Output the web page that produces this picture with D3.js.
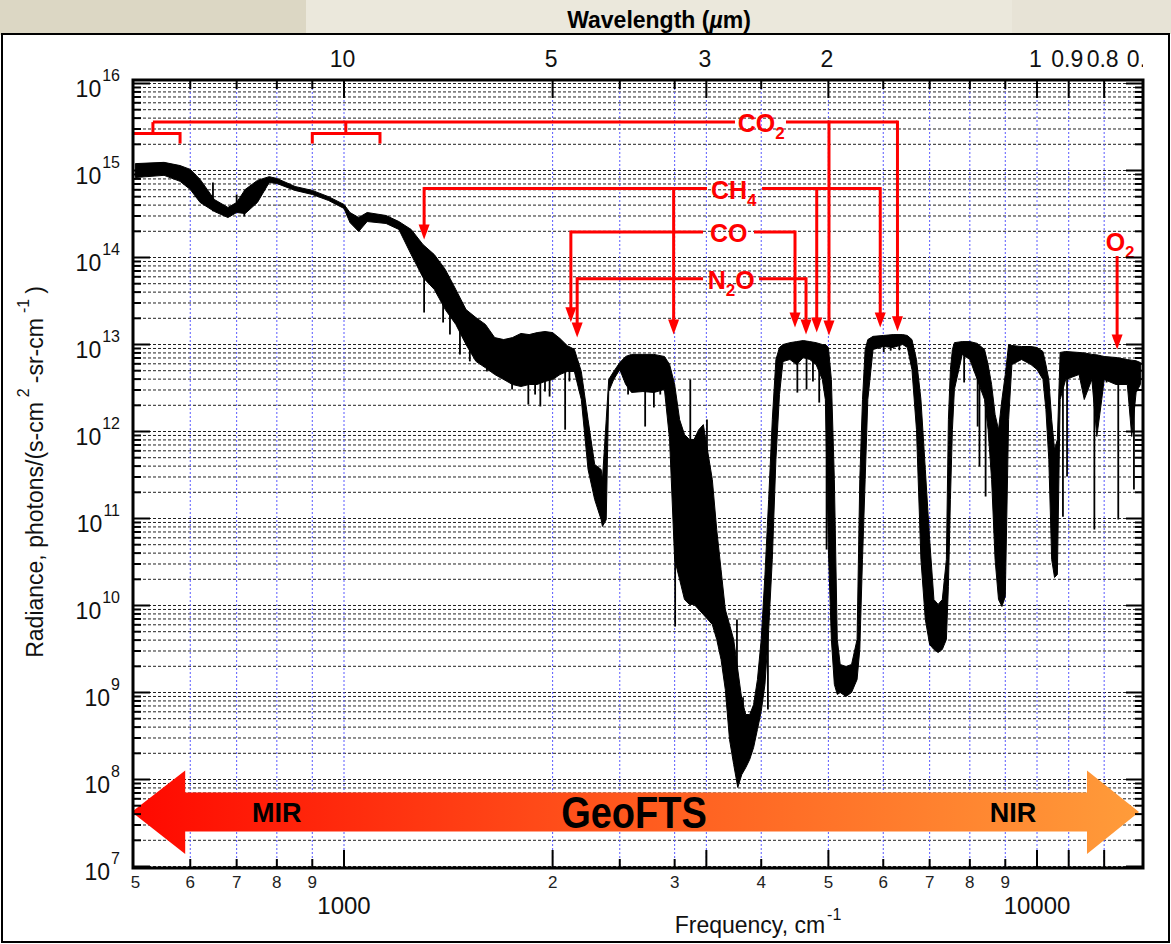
<!DOCTYPE html>
<html>
<head>
<meta charset="utf-8">
<script src="https://cdn.jsdelivr.net/npm/d3@7"></script>
<style>
  body { margin: 0; background: #fff; }
  svg { display: block; font-family: "Liberation Sans", Arial, sans-serif; }
</style>
</head>
<body>
<div id="chart"></div>
<script>
// ---- spectrum envelope (frequency cm-1, upper / lower radiance) ----
const freq = [500, 550, 580, 600, 620, 650, 680, 700, 720, 750, 780, 800, 850, 900, 950, 1000, 1020, 1050, 1080, 1150, 1200, 1250,
  1300, 1350, 1400, 1450, 1500, 1550, 1600, 1650, 1700, 1750, 1800, 1850, 1900, 1950, 2000, 2050, 2100, 2150, 2200, 2250, 2300,
  2350, 2360, 2390, 2410, 2450, 2500, 2550, 2600, 2700, 2800, 2900, 2950, 3000, 3050, 3100, 3150, 3200, 3250, 3300, 3400, 3450,
  3500, 3550, 3600, 3650, 3700, 3750, 3800, 3850, 3900, 3950, 4000, 4050, 4100, 4150, 4200, 4250, 4300, 4400, 4500, 4600, 4700,
  4800, 4900, 4950, 5000, 5050, 5100, 5150, 5200, 5300, 5400, 5500, 5550, 5600, 5650, 5700, 5800, 6000, 6200, 6400, 6500, 6600,
  6700, 6800, 6900, 7000, 7100, 7200, 7300, 7400, 7450, 7500, 7550, 7600, 7800, 8000, 8200, 8400, 8500, 8600, 8700, 8800, 8900,
  9000, 9100, 9200, 9500, 9800, 10000, 10200, 10300, 10400, 10500, 10600, 10700, 10800, 11000, 11500, 11700, 12000, 12200, 12400,
  12500, 13000, 13500, 13700, 13900, 14100];
const radHi = [1.20e15, 1.24e15, 1.14e15, 1.03e15, 7.9e14, 4.64e14, 3.76e14, 4.29e14, 6.05e14, 7.7e14, 8.5e14, 8.1e14, 6.55e14,
  5.9e14, 5.0e14, 4.07e14, 3.29e14, 2.88e14, 3.29e14, 3.04e14, 2.59e14, 2.1e14,
  1.41e14, 1.08e14, 7.3e13, 4.29e13, 2.52e13, 2.04e13, 1.70e13, 1.20e13, 1.14e13, 1.20e13, 1.34e13, 1.30e13, 1.37e13, 1.41e13,
  1.37e13, 1.17e13, 9.7e12, 8.8e12, 4.9e12, 1.37e12, 4.18e11, 3.66e11, 2.81e11, 1.37e12, 3.96e12, 4.9e12, 6.2e12, 7.3e12, 7.7e12,
  7.7e12, 7.7e12, 7.28e12, 5.9e12, 3.47e12, 1.37e12, 9.24e11, 8.1e11, 8.1e11, 1.05e12, 1.20e12, 2.8e11, 7.47e10,
  2.59e10, 9.0e9, 6.05e9, 4.07e9, 1.84e9, 8.31e8, 5.58e8, 5.58e8, 7.28e8, 1.41e9, 4.07e9, 2.27e10, 1.65e11, 1.37e12, 6.72e12,
  9.24e12, 1.0e13, 1.05e13, 1.08e13, 1.11e13, 1.08e13, 1.05e13, 1.0e13, 1.0e13, 9.24e12, 3.96e12, 2.8e11, 4.07e9, 2.1e9, 1.99e9,
  2.1e9, 4.07e9, 2.8e11, 2.33e12, 8.76e12, 1.14e13, 1.24e13, 1.27e13, 1.30e13, 1.30e13, 1.27e13, 1.14e13,
  6.72e12, 2.33e12, 3.66e11, 5.73e10, 1.17e10, 1.03e10, 1.17e10, 3.38e10, 1.37e12, 5.16e12, 8.76e12, 1.05e13, 1.08e13, 1.08e13,
  1.03e13, 8.76e12, 5.88e12, 3.47e12, 1.57e12, 1.05e12, 2.33e12, 4.52e12, 1.0e13, 9.74e12, 9.48e12, 9.48e12, 9.24e12, 8.31e12,
  5.88e12, 3.96e12, 1.37e12, 6.2e11, 8.1e11, 8.1e12, 8.31e12, 8.1e12, 8.0e12, 7.7e12, 7.6e12, 7.4e12,
  7.28e12, 7.09e12, 6.72e12, 6.6e12, 6.5e12, 6.2e12];
const radLo = [8.3e14, 8.8e14, 7.5e14, 6.05e14, 4.29e14, 3.38e14, 2.88e14, 3.29e14, 3.2e14, 4.29e14, 7.28e14, 7.09e14, 5.9e14,
  5.3e14, 4.52e14, 3.66e14, 2.52e14, 1.99e14, 2.59e14, 2.46e14, 2.1e14, 1.08e14,
  5.9e13, 4.29e13, 2.52e13, 1.70e13, 1.0e13, 6.4e12, 5.4e12, 4.52e12, 3.96e12, 3.47e12, 3.29e12, 3.47e12, 3.47e12, 3.76e12,
  3.96e12, 4.52e12, 4.9e12, 4.9e12, 2.33e12, 3.66e11, 1.65e11, 9.7e10, 8.1e10, 9.7e10, 2.88e12, 3.96e12, 5.16e12, 3.47e12, 2.81e12,
  2.88e12, 2.81e12, 3.04e12, 8.1e11, 3.38e10, 1.99e10, 1.17e10, 1.03e10, 1.03e10, 9.0e9, 7.88e9, 6.05e9, 4.07e9,
  2.4e9, 1.08e9, 2.88e8, 1.49e8, 8.1e7, 1.14e8, 1.37e8, 1.70e8, 2.33e8, 3.76e8, 6.05e8, 1.24e9, 5.3e9, 3.38e10, 4.77e11,
  2.66e12, 6.37e12, 6.72e12, 5.88e12, 7.09e12, 6.72e12, 5.88e12, 3.96e12, 2.33e12, 4.4e10, 4.07e9, 1.24e9, 9.48e8, 1.0e9, 9.0e8,
  1.0e9, 1.41e9, 3.12e9, 3.38e10, 2.8e11, 2.33e12, 8.76e12, 9.48e12, 9.24e12, 1.0e13, 9.24e12, 5.16e12,
  1.05e12, 3.38e10, 6.9e9, 3.56e9, 3.12e9, 2.88e9, 3.12e9, 4.07e9, 1.65e10, 1.65e11, 1.05e12, 3.04e12, 7.7e12, 6.72e12,
  3.96e12, 2.33e12, 1.05e12, 2.8e11, 3.38e10, 1.17e10, 9.74e9, 1.27e10, 1.37e12, 5.88e12, 6.72e12, 5.88e12, 5.16e12, 3.96e12,
  1.79e12, 4.77e11, 3.38e10, 2.1e10, 2.27e10, 2.33e12, 3.96e12, 4.52e12, 2.33e12, 3.96e12, 8.76e11, 2.33e12,
  3.96e12, 3.47e12, 3.47e12, 8.76e11, 2.8e12, 3.47e12];

// narrow absorption lines / spikes: frequency, from, to
const spikeFreq = [647, 700, 718, 1305, 1390, 1422, 1470, 1519, 1608, 1679, 1748, 1777, 1845, 1887, 1920, 1950, 1980, 2085, 2115,
  2570, 2640, 2720, 2800, 2860, 3005, 3160, 3340, 3570, 3690, 3765, 4090,
  4510, 4650, 4750, 4850, 4970, 6010, 6150, 6330, 7850, 8210, 8260, 8430, 10900, 11050, 11650, 12100, 12600, 13100, 13800];
const spikeHi = [7.28e14, 5.3e14, 4.5e14, 8e13, 4e13, 3e13, 2e13, 1.5e13, 1e13, 1e13, 1e13, 1e13, 5e12, 5e12, 5e12, 5e12, 5e12, 6e12, 8e12,
  7e12, 7e12, 4e12, 4e12, 7e12, 3e11, 3.96e12, 1.37e12, 6.9e9, 6.9e9, 8.8e8, 5e9,
  7e12, 7e12, 7e12, 7e12, 3e12, 1.2e13, 1.2e13, 1.2e13, 9e12, 5e12, 5e12, 3e12, 5e12, 5e12, 6e12, 5e12, 6e12, 5e12, 5e12];
const spikeLo = [3.4e14, 3.5e14, 2.96e14, 2.33e13, 1.79e13, 1.30e13, 7.7e12, 6.4e12, 4.9e12, 4.77e12, 3.04e12, 4.29e12, 2.04e12, 2.66e12,
  1.94e12, 2.88e12, 2.52e12, 1.05e12, 3.76e12,
  2.66e12, 2.88e12, 1.14e12, 1.89e12, 2.66e12, 5.73e9, 8e11, 3e11, 8e8, 8e8, 1.7e8, 6.37e8,
  2.8e12, 3.04e12, 3.76e12, 2.15e12, 4.4e10, 8.2e12, 8.5e12, 8.6e12, 3.66e12, 1.14e12, 3.96e11, 1.79e11, 1.05e11, 3.04e11,
  3.66e12, 7.47e10, 3.66e12, 9.74e10, 2.15e11];

// ---- axes ----
const yExp = [7, 8, 9, 10, 11, 12, 13, 14, 15, 16];
const waveMajor = [10, 5, 3, 2, 1, 0.9, 0.8, 0.7];       // labelled wavelength ticks (um)
const waveMinor = [4];
const freqMinor = [600, 700, 800, 900, 3000, 4000, 6000, 7000, 8000, 9000];
const freqDigits = [500, 600, 700, 800, 900, 2000, 3000, 4000, 5000, 6000, 7000, 8000, 9000];
const freqBig = [1000, 10000];

// ---- annotations ----
const gasLabels = [
  { main: "CO", sub: "2", tail: "", level: 3.6e15, at: 4000, gap: [3666, 4343], span: [530, 6290] },
  { main: "CH", sub: "4", tail: "", level: 6.2e14, at: 3650, gap: [3341, 4011], span: [1305, 5940] },
  { main: "CO", sub: "", tail: "", level: 1.96e14, at: 3590, gap: [3297, 3905], span: [2125, 4475] },
  { main: "N", sub: "2", tail: "O", level: 5.7e13, at: 3620, gap: [3297, 3971], span: [2170, 4642] }
];
const gasArrows = [
  { gas: 0, f: 5010, tip: 1.27e13 }, { gas: 0, f: 6290, tip: 1.42e13 },
  { gas: 1, f: 1305, tip: 1.61e14 }, { gas: 1, f: 2990, tip: 1.30e13 }, { gas: 1, f: 4810, tip: 1.37e13 }, { gas: 1, f: 5940, tip: 1.57e13 },
  { gas: 2, f: 2125, tip: 1.80e13 }, { gas: 2, f: 4475, tip: 1.57e13 },
  { gas: 3, f: 2170, tip: 1.20e13 }, { gas: 3, f: 4642, tip: 1.30e13 }
];
const co2Brackets = [{ mid: 530, from: 496, to: 580, drops: [580] }, { mid: 1006, from: 900, to: 1127, drops: [900, 1127] }];
const bracketLevel = 2.66e15, bracketFoot = 2.04e15;
const o2 = { f: 13050, labelF: 13180, label: 1.49e14, from: 1.0e14, tip: 8.76e12 };

// GeoFTS band arrow (frequency, radiance)
const bandArrow = [[494, 4.23e7], [590, 1.27e8], [590, 7.09e7], [11807, 7.09e7], [11807, 1.27e8], [14036, 4.23e7],
  [11807, 1.39e7], [11807, 2.52e7], [590, 2.52e7], [590, 1.39e7]];
const bandText = [{ t: "MIR", f: 800, size: 27, sy: 1.05 }, { t: "GeoFTS", f: 2621, size: 38, sy: 1.15 }, { t: "NIR", f: 9234, size: 27, sy: 1.05 }];

// ---- drawing ----
const W = 1171, H = 944;
const frame = { l: 133, r: 1143, t: 80, b: 868 };

const x = d3.scaleLog().domain([1000, 10000]).range([344, 1037]);
const y = d3.scaleLog().domain([1e7, 1e16]).range([866.5, 83.5]);

const svg = d3.select("#chart").append("svg").attr("width", W).attr("height", H);

// page background
svg.append("rect").attr("width", W).attr("height", H).attr("fill", "#fff");
svg.append("rect").attr("x", 0).attr("y", 0).attr("width", 306).attr("height", 35).attr("fill", "#dcd7c4");
svg.append("rect").attr("x", 306).attr("y", 0).attr("width", 706).attr("height", 34).attr("fill", "#ebe8dc");
svg.append("rect").attr("x", 1012).attr("y", 0).attr("width", 159).attr("height", 34).attr("fill", "#e7e3d6");
svg.append("rect").attr("x", 2).attr("y", 34).attr("width", 1167).attr("height", 908)
  .attr("fill", "#fff").attr("stroke", "#000").attr("stroke-width", 2);

svg.append("text").attr("x", 659).attr("y", 28).attr("text-anchor", "middle")
  .attr("font-size", 23).attr("font-weight", "bold")
  .call(t => {
    t.append("tspan").text("Wavelength (");
    t.append("tspan").attr("font-style", "italic").text("\u00b5");
    t.append("tspan").text("m)");
  });

const defs = svg.append("defs");
defs.append("clipPath").attr("id", "plotClip").append("rect")
  .attr("x", frame.l).attr("y", frame.t).attr("width", frame.r - frame.l).attr("height", frame.b - frame.t);
defs.append("clipPath").attr("id", "labelClip").append("rect")
  .attr("x", 0).attr("y", 0).attr("width", frame.r).attr("height", H);
const grad = defs.append("linearGradient").attr("id", "bandGrad")
  .attr("gradientUnits", "userSpaceOnUse").attr("x1", x(494)).attr("x2", x(14036)).attr("y1", 0).attr("y2", 0);
grad.append("stop").attr("offset", 0).attr("stop-color", "#ff0800");
grad.append("stop").attr("offset", 0.5).attr("stop-color", "#ff5a1e");
grad.append("stop").attr("offset", 1).attr("stop-color", "#ff9c3a");

// grid
const yGrid = [];
yExp.forEach(e => {
  for (let m = 1; m <= 9; m++) {
    if (e === 16 && m > 1) continue;
    yGrid.push(m * Math.pow(10, e));
  }
});
const tickLong = waveMajor.map(w => 1e4 / w).filter(f => x(f) < frame.r);
const tickShort = freqMinor.concat(waveMinor.map(w => 1e4 / w));

const grid = svg.append("g");
grid.selectAll("line.h").data(yGrid).join("line").attr("class", "h")
  .attr("x1", frame.l).attr("x2", frame.r).attr("y1", d => y(d)).attr("y2", d => y(d))
  .attr("stroke", "#222").attr("stroke-width", 1).attr("stroke-dasharray", "3,2");
grid.selectAll("line.v").data(tickLong.concat(tickShort)).join("line").attr("class", "v")
  .attr("x1", d => x(d)).attr("x2", d => x(d)).attr("y1", frame.t).attr("y2", frame.b)
  .attr("stroke", "#5a5aff").attr("stroke-width", 1).attr("stroke-dasharray", "2,2");

// spectrum
const spec = freq.map((f, i) => ({ f: f, hi: radHi[i], lo: radLo[i] }));
const plotG = svg.append("g").attr("clip-path", "url(#plotClip)");
plotG.append("path").datum(spec)
  .attr("d", d3.area().x(d => x(d.f)).y0(d => y(d.lo)).y1(d => y(d.hi)))
  .attr("fill", "#000").attr("stroke", "#000").attr("stroke-width", 1).attr("stroke-linejoin", "round");
plotG.selectAll("line.spike").data(spikeFreq).join("line").attr("class", "spike")
  .attr("x1", d => x(d)).attr("x2", d => x(d))
  .attr("y1", (d, i) => y(spikeHi[i])).attr("y2", (d, i) => y(spikeLo[i]))
  .attr("stroke", "#000").attr("stroke-width", 1.8);

// GeoFTS arrow
plotG.append("polygon")
  .attr("points", bandArrow.map(p => [x(p[0]), y(p[1])].join(",")).join(" "))
  .attr("fill", "url(#bandGrad)");
svg.selectAll("text.band").data(bandText).join("text").attr("class", "band")
  .attr("transform", d => `translate(${x(d.f)},${y(4.23e7) + d.size * 0.37 * d.sy}) scale(1,${d.sy})`)
  .attr("text-anchor", "middle").attr("font-weight", "bold").attr("font-size", d => d.size)
  .attr("fill", "#000").text(d => d.t);

// red annotations
const red = "#ff0000";
const ann = svg.append("g").attr("stroke", red).attr("stroke-width", 3).attr("fill", "none");
gasLabels.forEach(g => {
  ann.append("line").attr("x1", x(g.span[0])).attr("x2", x(g.gap[0])).attr("y1", y(g.level)).attr("y2", y(g.level));
  ann.append("line").attr("x1", x(g.gap[1])).attr("x2", x(g.span[1])).attr("y1", y(g.level)).attr("y2", y(g.level));
});
co2Brackets.forEach(b => {
  ann.append("line").attr("x1", x(b.mid)).attr("x2", x(b.mid)).attr("y1", y(gasLabels[0].level)).attr("y2", y(bracketLevel));
  ann.append("line").attr("x1", Math.max(x(b.from), frame.l)).attr("x2", x(b.to)).attr("y1", y(bracketLevel)).attr("y2", y(bracketLevel));
  b.drops.forEach(f => {
    ann.append("line").attr("x1", x(f)).attr("x2", x(f)).attr("y1", y(bracketLevel) - 1.5).attr("y2", y(bracketFoot));
  });
});
const arrowList = gasArrows.map(a => ({ f: a.f, from: gasLabels[a.gas].level, tip: a.tip }))
  .concat([{ f: o2.f, from: o2.from, tip: o2.tip }]);
arrowList.forEach(a => {
  const ax = x(a.f), ty = y(a.tip);
  ann.append("line").attr("x1", ax).attr("x2", ax).attr("y1", y(a.from) - 1.5).attr("y2", ty - 10);
  ann.append("path").attr("d", `M${ax - 5.5},${ty - 15}L${ax + 5.5},${ty - 15}L${ax},${ty}Z`)
    .attr("fill", red).attr("stroke", "none");
});

const labelData = gasLabels.map(g => ({ main: g.main, sub: g.sub, tail: g.tail, f: g.at, v: g.level, dy: 10 }))
  .concat([{ main: "O", sub: "2", tail: "", f: o2.labelF, v: o2.label, dy: 9 }]);
labelData.forEach(d => {
  const t = svg.append("text").attr("x", x(d.f)).attr("y", y(d.v) + d.dy)
    .attr("text-anchor", "middle").attr("font-weight", "bold").attr("font-size", 25).attr("fill", red);
  t.append("tspan").text(d.main);
  if (d.sub) t.append("tspan").attr("font-size", 17).attr("dy", 7).text(d.sub);
  if (d.tail) t.append("tspan").attr("dy", -7).text(d.tail);
});

// ticks
const ticks = svg.append("g").attr("stroke", "#000").attr("stroke-width", 2);
yGrid.forEach(v => {
  const major = Math.abs(Math.log10(v) - Math.round(Math.log10(v))) < 1e-9;
  const len = major ? 17 : 8;
  ticks.append("line").attr("x1", frame.l).attr("x2", frame.l + len).attr("y1", y(v)).attr("y2", y(v));
  ticks.append("line").attr("x1", frame.r).attr("x2", frame.r - len).attr("y1", y(v)).attr("y2", y(v));
});
[[tickLong, 18], [tickShort, 9]].forEach(([vals, len]) => {
  vals.forEach(f => {
    ticks.append("line").attr("x1", x(f)).attr("x2", x(f)).attr("y1", frame.t).attr("y2", frame.t + len);
    ticks.append("line").attr("x1", x(f)).attr("x2", x(f)).attr("y1", frame.b).attr("y2", frame.b - len);
  });
});
svg.append("rect").attr("x", frame.l).attr("y", frame.t).attr("width", frame.r - frame.l).attr("height", frame.b - frame.t)
  .attr("fill", "none").attr("stroke", "#000").attr("stroke-width", 3);

// y labels
yExp.forEach(e => {
  const t = svg.append("text").attr("x", 120).attr("y", y(Math.pow(10, e)) + 13.5)
    .attr("text-anchor", "end").attr("font-size", 23).attr("fill", "#111");
  t.append("tspan").text("10");
  t.append("tspan").attr("font-size", 16).attr("dy", -16).attr("dx", 1).text(e);
});

// top wavelength labels (clipped by the frame edge)
svg.append("g").attr("clip-path", "url(#labelClip)")
  .selectAll("text").data(waveMajor).join("text")
  .attr("x", d => x(1e4 / d) - 1.5).attr("y", 67).attr("text-anchor", "middle")
  .attr("font-size", 23).attr("fill", "#111").text(d => d);

// bottom frequency labels
svg.selectAll("text.fd").data(freqDigits).join("text").attr("class", "fd")
  .attr("x", d => x(d)).attr("y", 888).attr("text-anchor", "middle")
  .attr("font-size", 17).attr("fill", "#222").text(d => String(d)[0]);
svg.selectAll("text.fb").data(freqBig).join("text").attr("class", "fb")
  .attr("x", d => x(d)).attr("y", 914).attr("text-anchor", "middle")
  .attr("font-size", 24).attr("fill", "#111").text(d => d);

svg.append("text").attr("x", 758).attr("y", 933).attr("text-anchor", "middle").attr("font-size", 23).attr("fill", "#111")
  .call(t => {
    t.append("tspan").text("Frequency, cm");
    t.append("tspan").attr("font-size", 16).attr("dy", -13).attr("dx", 2).text("-1");
  });

svg.append("text").attr("transform", "translate(43,472) rotate(-90)").attr("text-anchor", "middle")
  .attr("font-size", 23).attr("fill", "#111")
  .call(t => {
    t.append("tspan").text("Radiance, photons/(s-cm");
    t.append("tspan").attr("font-size", 16).attr("dy", -14).attr("dx", 5).text("2");
    t.append("tspan").attr("dy", 14).attr("dx", 5).text("-sr-cm");
    t.append("tspan").attr("font-size", 16).attr("dy", -14).attr("dx", 5).text("-1");
    t.append("tspan").attr("dy", 14).attr("dx", 5).text(")");
  });
</script>
</body>
</html>
